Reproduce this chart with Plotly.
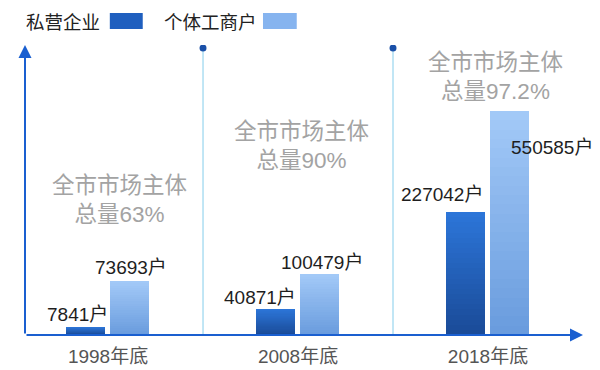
import plotly.graph_objects as go

# ---- data ----
categories = ["1998年底", "2008年底", "2018年底"]
series_names = ["私营企业", "个体工商户"]
private_counts = [7841, 40871, 227042]          # 户
individual_counts = [73693, 100479, 550585]     # 户
# drawn bar heights (stylised, arbitrary units)
private_heights = [8, 26, 123]
individual_heights = [54, 61, 224]
share_labels = ["全市市场主体<br>总量63%", "全市市场主体<br>总量90%", "全市市场主体<br>总量97.2%"]

FONT = "Liberation Sans, Noto Sans CJK SC, sans-serif"
CJK = "Noto Sans CJK SC, sans-serif"

x = list(range(len(categories)))
BW = 0.205
N = 24


def lerp(c1, c2, t):
    a = [int(c1[i:i + 2], 16) for i in (1, 3, 5)]
    b = [int(c2[i:i + 2], 16) for i in (1, 3, 5)]
    return "rgb(%d,%d,%d)" % tuple(round(a[k] + (b[k] - a[k]) * t) for k in range(3))


fig = go.Figure()


def gradient_bars(heights, offset, top, bottom):
    for i in range(N):
        f = 1 - i / N
        fig.add_trace(go.Bar(
            x=x, y=[h * f for h in heights], offset=offset, width=BW,
            marker=dict(color=lerp(top, bottom, i / (N - 1)), line=dict(width=0)),
            hoverinfo="skip", showlegend=False))


gradient_bars(private_heights, -0.222, "#2c75d8", "#1a4b98")
gradient_bars(individual_heights, 0.012, "#a2c9f7", "#6a9cde")

# separators with dots
for sx in [0.5, 1.5]:
    fig.add_shape(type="line", x0=sx, x1=sx, y0=0, y1=287, xref="x", yref="y",
                  line=dict(color="#84cdeb", width=1), layer="below")
fig.add_trace(go.Scatter(x=[0.5, 1.5], y=[287, 287], mode="markers",
                         marker=dict(color="#1a50a8", size=7),
                         hoverinfo="skip", showlegend=False))

XMIN, XMAX = -0.437, 2.5
# axes arrows
fig.add_annotation(x=XMAX, y=0, ax=XMIN, ay=0, xref="x", yref="y", axref="x", ayref="y",
                   showarrow=True, arrowhead=2, arrowsize=1.3, arrowwidth=2,
                   arrowcolor="#1a5fd0", text="")
fig.add_annotation(x=XMIN, y=290, ax=XMIN, ay=0, xref="x", yref="y", axref="x", ayref="y",
                   showarrow=True, arrowhead=2, arrowsize=1.3, arrowwidth=2,
                   arrowcolor="#1a5fd0", text="")

# value labels
pcx = [xi - 0.222 + BW / 2 for xi in x]
icx = [xi + 0.012 + BW / 2 for xi in x]
p_shift = [(-8, 13), (-15, 12), (-23, 18)]
i_shift = [(1, 14), (2, 12), (42, -36)]
for i in range(3):
    fig.add_annotation(x=pcx[i], y=private_heights[i], text=f"{private_counts[i]}户",
                       showarrow=False, xshift=p_shift[i][0], yshift=p_shift[i][1],
                       font=dict(family=FONT, size=19, color="#1e1e1e"))
    fig.add_annotation(x=icx[i], y=individual_heights[i], text=f"{individual_counts[i]}户",
                       showarrow=False, xshift=i_shift[i][0], yshift=i_shift[i][1],
                       font=dict(family=FONT, size=19, color="#1e1e1e"))

# share annotations
share_pos = [(0.058, 135), (1.016, 189), (2.037, 258)]
for (sx, sy), t in zip(share_pos, share_labels):
    fig.add_annotation(x=sx, y=sy, text=t, showarrow=False,
                       font=dict(family=FONT, size=22.5, color="#a3a3a3"))

# legend
fig.add_annotation(x=0.068, y=1.083, xref="paper", yref="paper", text=series_names[0],
                   xanchor="center", yanchor="middle",
                   showarrow=False, font=dict(family=CJK, size=18.5, color="#222222"))
fig.add_shape(type="rect", xref="paper", yref="paper", x0=0.152, x1=0.211, y0=1.055, y1=1.110,
              line=dict(width=0), fillcolor="#1f5fbf")
fig.add_annotation(x=0.333, y=1.083, xref="paper", yref="paper", text=series_names[1],
                   xanchor="center", yanchor="middle",
                   showarrow=False, font=dict(family=CJK, size=18.5, color="#222222"))
fig.add_shape(type="rect", xref="paper", yref="paper", x0=0.4265, x1=0.487, y0=1.055, y1=1.110,
              line=dict(width=0), fillcolor="#86b4ef")

# page body has an 8px default margin, so the figure is 8px smaller and margins shifted
fig.update_layout(
    width=592, height=362,
    margin=dict(l=17, r=17, t=37, b=35, autoexpand=False),
    paper_bgcolor="white", plot_bgcolor="white",
    barmode="overlay", bargap=0,
    showlegend=False,
    xaxis=dict(range=[XMIN, XMAX], tickvals=x, ticktext=categories, showgrid=False,
               zeroline=False, showline=False, ticks="outside", ticklen=4,
               tickcolor="rgba(0,0,0,0)", automargin=False,
               tickfont=dict(family=FONT, size=19, color="#555555"), fixedrange=True),
    yaxis=dict(range=[0, 290], showgrid=False, zeroline=False, showline=False,
               showticklabels=False, fixedrange=True, automargin=False),
)

fig.write_html("out.html")
